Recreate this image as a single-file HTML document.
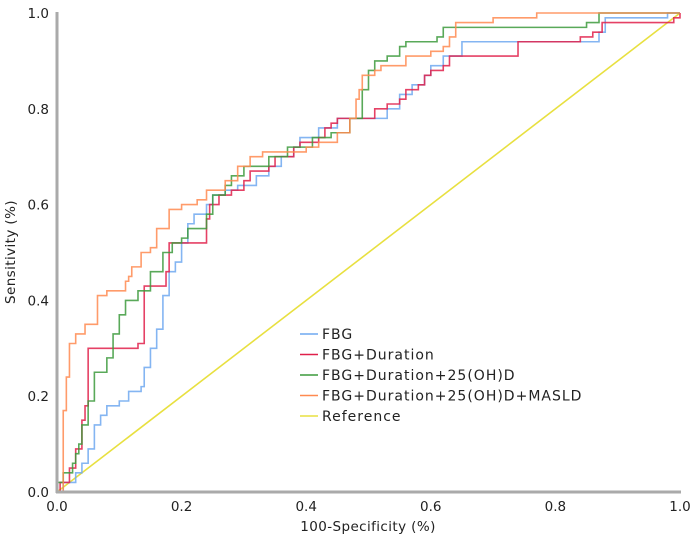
<!DOCTYPE html>
<html><head><meta charset="utf-8"><style>
body{margin:0;background:#fff;}
svg{font-family:"DejaVu Sans","Liberation Sans",sans-serif;}
</style></head><body>
<svg id="chart" width="692" height="541" xmlns="http://www.w3.org/2000/svg"></svg>
<script>
const xTicks=[0.0,0.2,0.4,0.6,0.8,1.0];
const yTicks=[0.0,0.2,0.4,0.6,0.8,1.0];
const seriesNames=["FBG","FBG+Duration","FBG+Duration+25(OH)D","FBG+Duration+25(OH)D+MASLD","Reference"];
const seriesColors=["#6fa8f0","#e0204a","#3c9a3c","#ff8a50","#e8e040"];
const fbgX=[0,0.01,0.03,0.04,0.05,0.06,0.07,0.08,0.1,0.115,0.135,0.14,0.15,0.16,0.17,0.18,0.19,0.2,0.21,0.22,0.24,0.25,0.27,0.29,0.32,0.34,0.36,0.38,0.39,0.42,0.45,0.53,0.55,0.57,0.59,0.6,0.62,0.65,0.87,0.88,0.98,1.0];
const fbgY=[0,0.02,0.04,0.06,0.09,0.14,0.16,0.18,0.19,0.21,0.22,0.26,0.30,0.34,0.41,0.46,0.48,0.52,0.56,0.58,0.60,0.62,0.63,0.64,0.66,0.68,0.70,0.72,0.74,0.76,0.78,0.80,0.83,0.85,0.87,0.89,0.91,0.94,0.96,0.99,1.0,1.0];
const durX=[0,0.005,0.02,0.03,0.04,0.045,0.05,0.13,0.14,0.175,0.18,0.24,0.245,0.26,0.28,0.3,0.31,0.34,0.35,0.38,0.39,0.42,0.43,0.44,0.45,0.51,0.53,0.55,0.56,0.58,0.59,0.6,0.62,0.63,0.74,0.84,0.86,0.875,0.99,1.0];
const durY=[0,0.02,0.05,0.09,0.15,0.18,0.30,0.31,0.43,0.46,0.52,0.57,0.60,0.62,0.63,0.65,0.67,0.68,0.70,0.72,0.73,0.74,0.76,0.77,0.78,0.80,0.81,0.82,0.84,0.85,0.87,0.88,0.89,0.91,0.94,0.95,0.96,0.98,0.99,1.0];
const ohdX=[0,0.01,0.025,0.03,0.035,0.04,0.05,0.06,0.08,0.09,0.1,0.11,0.13,0.15,0.17,0.185,0.2,0.21,0.24,0.25,0.27,0.28,0.3,0.34,0.37,0.41,0.44,0.47,0.49,0.5,0.51,0.53,0.55,0.56,0.61,0.62,0.85,0.87,1.0];
const ohdY=[0.02,0.04,0.06,0.08,0.10,0.14,0.19,0.25,0.28,0.33,0.37,0.40,0.42,0.46,0.50,0.52,0.53,0.55,0.58,0.62,0.64,0.66,0.68,0.70,0.72,0.74,0.75,0.78,0.84,0.88,0.90,0.91,0.93,0.94,0.95,0.97,0.98,1.0,1.0];
const masX=[0,0.01,0.015,0.02,0.03,0.045,0.065,0.08,0.11,0.115,0.12,0.135,0.15,0.16,0.18,0.2,0.225,0.24,0.27,0.29,0.31,0.33,0.4,0.42,0.45,0.47,0.48,0.485,0.49,0.51,0.52,0.56,0.6,0.62,0.63,0.64,0.7,0.77,1.0];
const masY=[0,0.17,0.24,0.31,0.33,0.35,0.41,0.42,0.44,0.45,0.47,0.50,0.51,0.55,0.59,0.60,0.61,0.63,0.65,0.68,0.70,0.71,0.72,0.73,0.75,0.78,0.82,0.84,0.87,0.88,0.89,0.91,0.92,0.93,0.95,0.98,0.99,1.0,1.0];

const NS="http://www.w3.org/2000/svg";
const svg=document.getElementById('chart');
const X0=57,X1=680,Y0=492,Y1=13;
const sx=v=>X0+v*(X1-X0), sy=v=>Y0-v*(Y0-Y1);
function mk(t,a,p){const e=document.createElementNS(NS,t);for(const k in a)e.setAttribute(k,a[k]);(p||svg).appendChild(e);return e;}

const gx=mk('g',{});


const gy=mk('g',{});


xTicks.forEach(v=>{const t=mk('text',{x:sx(v),y:511,'text-anchor':'middle','font-size':13.5,fill:'#222'},gx);t.textContent=v.toFixed(1);

});
yTicks.forEach(v=>{const t=mk('text',{x:49,y:sy(v)+5,'text-anchor':'end','font-size':13.5,fill:'#222'},gy);t.textContent=v.toFixed(1);

});
const xt=mk('text',{x:368,y:531,'text-anchor':'middle','font-size':13.5,'letter-spacing':0.4,fill:'#222'});xt.textContent='100-Specificity (%)';


const yt=mk('text',{x:0,y:0,transform:'translate(15,252) rotate(-90)','text-anchor':'middle','font-size':13.5,'letter-spacing':0.4,fill:'#222'});yt.textContent='Sensitivity (%)';



const ref=mk('line',{x1:sx(0),y1:sy(0),x2:sx(1),y2:sy(1),stroke:seriesColors[4],'stroke-width':1.6});



function step(xs,ys){let d='M'+sx(xs[0])+' '+sy(0);for(let i=0;i<xs.length;i++){d+=' L'+sx(xs[i])+' '+(i?sy(ys[i-1]):sy(0))+' L'+sx(xs[i])+' '+sy(ys[i]);}return d;}
const sets=[[fbgX,fbgY,'fbg-curve'],[durX,durY,'fbg-duration-curve'],[ohdX,ohdY,'fbg-duration-25ohd-curve'],[masX,masY,'fbg-duration-25ohd-masld-curve']];
sets.forEach((s,i)=>{const p=mk('path',{d:step(s[0],s[1]),fill:'none',stroke:seriesColors[i],'stroke-width':1.6,'stroke-opacity':0.85});

});

mk('line',{x1:X0,y1:12,x2:X0,y2:Y0+1,stroke:'#aaa','stroke-width':3});
mk('line',{x1:X0-1,y1:Y0,x2:681,y2:Y0,stroke:'#aaa','stroke-width':3});

const lg=mk('g',{});


seriesNames.forEach((n,i)=>{const y=334+i*20.5;
const e=mk('g',{},lg);


mk('line',{x1:300,y1:y,x2:318,y2:y,stroke:seriesColors[i],'stroke-width':1.6},e);
const t=mk('text',{x:322,y:y+5,'font-size':14,'letter-spacing':1,fill:'#222'},e);t.textContent=n;});
</script>
</body></html>
